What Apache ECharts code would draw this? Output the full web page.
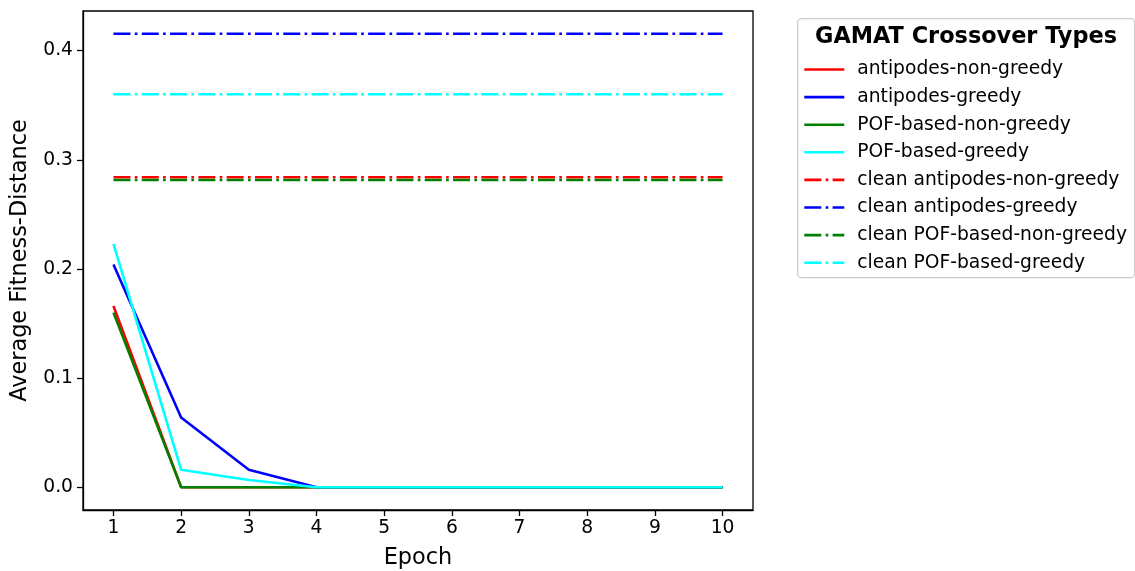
<!DOCTYPE html>
<html>
<head>
<meta charset="utf-8">
<script src="https://cdn.jsdelivr.net/npm/echarts@6/dist/echarts.min.js"></script>
<style>
  html, body { margin: 0; padding: 0; background: #fff; }
  #grafico { width: 1135px; height: 571px; }
</style>
</head>
<body>
<div id="grafico"></div>
<script>
// epochs on the x axis
const epocas = [1, 2, 3, 4, 5, 6, 7, 8, 9, 10];

// per-epoch averages
const antipodesNaoGuloso = [0.166, 0, 0, 0, 0, 0, 0, 0, 0, 0];
const antipodesGuloso = [0.204, 0.064, 0.016, 0, 0, 0, 0, 0, 0, 0];
const pofNaoGuloso = [0.160, 0, 0, 0, 0, 0, 0, 0, 0, 0];
const pofGuloso = [0.223, 0.016, 0.0067, 0, 0, 0, 0, 0, 0, 0];

// constant "clean" reference levels
const limpoAntipodesNaoGuloso = 0.2840;
const limpoAntipodesGuloso = 0.4155;
const limpoPofNaoGuloso = 0.2815;
const limpoPofGuloso = 0.3600;

const nomes = [
  'antipodes-non-greedy', 'antipodes-greedy', 'POF-based-non-greedy', 'POF-based-greedy',
  'clean antipodes-non-greedy', 'clean antipodes-greedy', 'clean POF-based-non-greedy', 'clean POF-based-greedy'
];
const cores = ['#ff0000', '#0000ff', '#008000', '#00ffff'];
const ticksX = [1, 2, 3, 4, 5, 6, 7, 8, 9, 10];
const ticksY = [0, 0.1, 0.2, 0.3, 0.4];

const fonte = 'DejaVu Sans';
const tracoPonto = [17, 4.3, 2.7, 4.3];
const grafico = echarts.init(document.getElementById('grafico'));

function pares(valores) {
  return epocas.map((e, i) => [e, valores[i]]);
}

function serie(nome, cor, valores, tracejado) {
  return {
    name: nome,
    type: 'line',
    data: pares(valores),
    symbol: 'none',
    showSymbol: false,
    animation: false,
    lineStyle: {
      color: cor,
      width: 2.6,
      type: tracejado ? tracoPonto : 'solid'
    },
    itemStyle: { color: cor }
  };
}

const constantes = [limpoAntipodesNaoGuloso, limpoAntipodesGuloso, limpoPofNaoGuloso, limpoPofGuloso];

const series = [
  serie(nomes[0], cores[0], antipodesNaoGuloso, false),
  serie(nomes[1], cores[1], antipodesGuloso, false),
  serie(nomes[2], cores[2], pofNaoGuloso, false),
  serie(nomes[3], cores[3], pofGuloso, false)
];
constantes.forEach((v, i) => {
  series.push(serie(nomes[4 + i], cores[i], epocas.map(() => v), true));
});

// legend entries, with the dash pattern for the "clean" ones
const itensLegenda = nomes.map((n, i) => ({
  name: n,
  lineStyle: { type: i >= 4 ? tracoPonto : 'solid', width: 2.6 }
}));

const opcoes = {
  backgroundColor: '#fff',
  animation: false,
  grid: {
    left: 83, right: 382, top: 11, bottom: 61,
    outerBoundsMode: 'none',
    containLabel: false,
    show: true, borderColor: '#000', borderWidth: 1.3
  },
  xAxis: {
    type: 'value',
    min: 0.55, max: 10.45,
    name: 'Epoch',
    nameLocation: 'middle',
    nameGap: 37,
    nameTextStyle: { fontFamily: fonte, fontSize: 22.4, color: '#000' },
    splitLine: { show: false },
    axisLine: { show: true, onZero: false, lineStyle: { color: '#000', width: 1.3 } },
    axisTick: { show: true, length: 6, lineStyle: { color: '#000', width: 1.3 }, customValues: ticksX },
    axisLabel: { fontFamily: fonte, fontSize: 18.7, color: '#000', margin: 9, customValues: ticksX }
  },
  yAxis: {
    type: 'value',
    min: -0.0208, max: 0.4363,
    name: 'Average Fitness-Distance',
    nameLocation: 'middle',
    nameGap: 52,
    nameTextStyle: { fontFamily: fonte, fontSize: 22.4, color: '#000' },
    splitLine: { show: false },
    axisLine: { show: true, onZero: false, lineStyle: { color: '#000', width: 1.3 } },
    axisTick: { show: true, length: 6, lineStyle: { color: '#000', width: 1.3 }, customValues: ticksY },
    axisLabel: {
      fontFamily: fonte, fontSize: 18.7, color: '#000', margin: 10, customValues: ticksY,
      formatter: v => v.toFixed(1)
    }
  },
  legend: {
    orient: 'vertical',
    left: 803,
    top: 60,
    padding: 0,
    itemWidth: 40,
    itemHeight: 14,
    itemGap: 8.6,
    itemStyle: { opacity: 0 },
    data: itensLegenda,
    textStyle: { fontFamily: fonte, fontSize: 18.7, color: '#000', padding: [0, 0, 0, 8] }
  },
  graphic: [
    {
      type: 'rect', left: 797, top: 18, z: -1,
      shape: { width: 337, height: 259, r: 4 },
      style: { fill: '#fff', stroke: '#cccccc', lineWidth: 1.3 }
    },
    {
      type: 'text', x: 966, y: 37,
      style: {
        text: 'GAMAT Crossover Types', fontFamily: fonte, fontSize: 22.4, fontWeight: 'bold',
        fill: '#000', align: 'center', verticalAlign: 'middle'
      }
    }
  ],
  series: series
};

grafico.setOption(opcoes);
</script>
</body>
</html>
